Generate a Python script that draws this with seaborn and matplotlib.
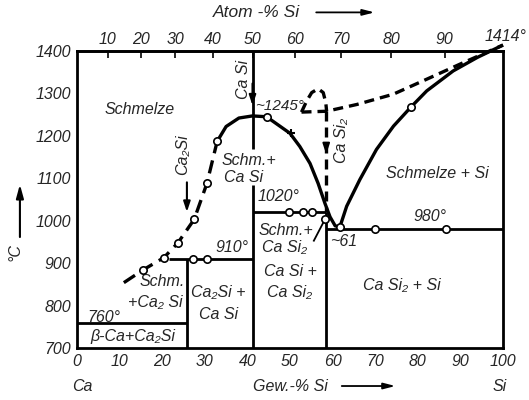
import numpy as np
import pandas as pd
import matplotlib
matplotlib.use("Agg")
import matplotlib.pyplot as plt
import matplotlib.transforms as mtransforms
import seaborn as sns

# ---------------- data ----------------
y_ticks = [700, 800, 900, 1000, 1100, 1200, 1300, 1400]
x_ticks = [0, 10, 20, 30, 40, 50, 60, 70, 80, 90, 100]
atom_ticks = [10, 20, 30, 40, 50, 60, 70, 80, 90]

# liquidus on the Ca-rich side (dashed part)
liq1_wt = [11, 15.5, 20.4, 23.7, 27.5, 30.5, 32.9]
liq1_T = [854, 884, 913, 948, 1003, 1088, 1187]
# liquidus around CaSi maximum down to eutectic
liq2_wt = [32.9, 35.0, 38.0, 41.2, 44.5, 50.0, 52.3, 54.7, 56.6, 58.2, 59.4, 60.6, 61.7]
liq2_T = [1187, 1222, 1242, 1247, 1245, 1206, 1175, 1135, 1088, 1041, 1009, 988, 985]
# Si liquidus
liq3_wt = [61.7, 63.3, 66.4, 70.3, 74.3, 78.4, 82.1, 88.3, 94.0, 100]
liq3_T = [985, 1034, 1097, 1168, 1223, 1268, 1306, 1353, 1385, 1414]
# dashed upper line
gap_wt = [52.7, 58.6, 65.7, 74.2, 82.2, 89.9, 100]
gap_T = [1256, 1258, 1274, 1298, 1334, 1369, 1414]
# dashed loop (CaSi2 maximum)
loop_wt = [52.7, 53.9, 55.1, 56.6, 57.8, 58.4, 58.6]
loop_T = [1256, 1282, 1302, 1311, 1302, 1278, 1258]

# horizontal invariants: temperature, start wt, end wt
iso_T = [760, 910, 1020, 980]
iso_from = [0, 21.5, 41.2, 58.4]
iso_to = [25.9, 41.2, 58.4, 100]

# vertical compound lines: wt, low T, high T
vert_wt = [25.9, 41.2, 41.2, 58.4]
vert_lo = [700, 700, 1168, 700]
vert_hi = [910, 1085, 1400, 1020]

# dashed CaSi2 line
casi2_wt = [58.5, 58.5]
casi2_T = [1258, 1020]

# leader line
lead_wt = [55.5, 58.2]
lead_T = [951, 1003]

# measured points
circ_wt = [15.5, 20.4, 23.7, 27.5, 30.5, 32.9, 44.5, 27.2, 30.5,
           49.8, 53.0, 55.2, 58.2, 61.7, 70.0, 86.6, 78.4]
circ_T = [884, 913, 948, 1003, 1088, 1187, 1245, 910, 910,
          1020, 1020, 1020, 1003, 985, 980, 980, 1268]
plus_wt = [50.2]
plus_T = [1206]

# ---------------- style ----------------
sns.set_style("white")
plt.rcParams["font.family"] = ["Liberation Sans", "DejaVu Sans"]
plt.rcParams["font.style"] = "italic"
FS = 11.5

fig = plt.figure(figsize=(5.29, 4.0), dpi=100)
ax = fig.add_axes([77 / 529, 1 - 348 / 400, 426 / 529, 297 / 400])

LW = 2.4
K = "black"


def line(xs, ys, ls="-", lw=LW):
    df = pd.DataFrame({"wt": xs, "T": ys})
    sns.lineplot(data=df, x="wt", y="T", sort=False, estimator=None,
                 color=K, lw=lw, linestyle=ls, ax=ax, clip_on=False,
                 solid_capstyle="butt", dash_capstyle="butt")


line(liq1_wt, liq1_T, ls=(0, (4, 2.2)))
line(liq2_wt, liq2_T)
line(liq3_wt, liq3_T)
line(gap_wt, gap_T, ls=(0, (3, 1.8)))
line(loop_wt, loop_T, ls=(0, (3, 1.8)))
line(casi2_wt, casi2_T, ls=(0, (3, 1.8)))
line(lead_wt, lead_T, lw=1.3)

for T, a, b in zip(iso_T, iso_from, iso_to):
    line([a, b], [T, T], lw=2.0)
for w, lo, hi in zip(vert_wt, vert_lo, vert_hi):
    line([w, w], [lo, hi], lw=2.0)

sns.scatterplot(x=circ_wt, y=circ_T, marker="o", s=28, facecolor="white",
                edgecolor=K, linewidth=1.2, zorder=5, ax=ax, clip_on=False)
sns.scatterplot(x=plus_wt, y=plus_T, marker="+", s=40, color=K,
                linewidth=1.5, zorder=5, ax=ax)

# arrows
ap = dict(arrowstyle="-|>,head_length=0.6,head_width=0.2", color=K, lw=1.5)
ax.annotate("", xy=(25.8, 1014), xytext=(25.8, 1097), arrowprops=ap)
ax.annotate("", xy=(41.2, 1265), xytext=(41.2, 1330), arrowprops=ap)
ax.annotate("", xy=(58.5, 1150), xytext=(58.5, 1185), arrowprops=ap)

# axes
ax.set_xlim(0, 100)
ax.set_ylim(700, 1400)
ax.set_xticks(x_ticks)
ax.set_yticks(y_ticks)
ax.set_xticklabels([str(v) for v in x_ticks], fontsize=FS)
ax.set_yticklabels([str(v) for v in y_ticks], fontsize=FS)
ax.tick_params(direction="in", length=5, width=1.4, pad=4)
ax.set_xlabel("")
ax.set_ylabel("")
for s in ax.spines.values():
    s.set_linewidth(2.0)
    s.set_color(K)


def wt2at(w):
    w = np.asarray(w, dtype=float)
    return (w / 28.09) / (w / 28.09 + (100 - w) / 40.08 + 1e-12) * 100


def at2wt(a):
    a = np.asarray(a, dtype=float)
    return a * 28.09 / (a * 28.09 + (100 - a) * 40.08 + 1e-12) * 100


sec = ax.secondary_xaxis("top", functions=(wt2at, at2wt))
sec.set_xticks(atom_ticks)
sec.set_xticklabels([str(v) for v in atom_ticks], fontsize=FS)
sec.tick_params(direction="in", length=5, width=1.4, pad=3)
sec.spines["top"].set_linewidth(2.0)

bt = mtransforms.blended_transform_factory(ax.transData, ax.transAxes)
ax.text(100.5, 1.025, "1414°", transform=bt, ha="center", va="bottom", fontsize=FS)
ax.text(31.9, 1.13, "Atom -% Si", transform=bt, ha="left", va="center",
        fontsize=12.5)
ax.annotate("", xy=(70.5, 1.13), xytext=(55.5, 1.13), xycoords=bt, textcoords=bt,
            arrowprops=dict(arrowstyle="-|>,head_length=0.7,head_width=0.18",
                            color=K, lw=1.3))
ax.text(1.2, -0.128, "Ca", transform=bt, ha="center", va="center", fontsize=FS)
ax.text(99.3, -0.128, "Si", transform=bt, ha="center", va="center", fontsize=FS)
ax.text(41.3, -0.128, "Gew.-% Si", transform=bt, ha="left", va="center",
        fontsize=FS)
ax.annotate("", xy=(75.4, -0.128), xytext=(61.5, -0.128), xycoords=bt,
            textcoords=bt,
            arrowprops=dict(arrowstyle="-|>,head_length=0.7,head_width=0.18",
                            color=K, lw=1.3))

lt = mtransforms.blended_transform_factory(ax.transAxes, ax.transData)
ax.text(-0.145, 926, "°C", transform=lt, rotation=90, ha="center", va="center",
        fontsize=FS)
ax.annotate("", xy=(-0.134, 1092), xytext=(-0.134, 955), xycoords=lt,
            textcoords=lt,
            arrowprops=dict(arrowstyle="-|>,head_length=0.8,head_width=0.22",
                            color=K, lw=1.5))

# region / point labels
def t(x, y, s, ha="center", rot=0, fs=FS):
    ax.text(x, y, s, ha=ha, va="center", fontsize=fs, rotation=rot)


t(14.8, 1261, "Schmelze")
t(24.9, 1155, "Ca₂Si", rot=90)
t(39.2, 1332, "Ca Si", rot=90)
t(41.8, 1270, "~1245°", ha="left", fs=11)
t(34.0, 1143, "Schm.+", ha="left")
t(34.5, 1103, "Ca Si", ha="left")
t(42.5, 1056, "1020°", ha="left")
t(42.5, 978, "Schm.+", ha="left")
t(43.4, 938, "Ca Si₂", ha="left")
t(62.2, 1190, "Ca Si₂", rot=90)
t(84.5, 1112, "Schmelze + Si")
t(82.9, 1009, "980°")
t(59.4, 950, "~61", ha="left")
t(76.3, 848, "Ca Si₂ + Si")
t(50.0, 880, "Ca Si +")
t(50.0, 830, "Ca Si₂")
t(33.1, 830, "Ca₂Si +")
t(33.1, 778, "Ca Si")
t(36.4, 936, "910°")
t(20.0, 856, "Schm.")
t(18.3, 808, "+Ca₂ Si")
t(6.3, 773, "760°")
t(13.1, 726, "β-Ca+Ca₂Si")

fig.savefig("out.png", dpi=100)
